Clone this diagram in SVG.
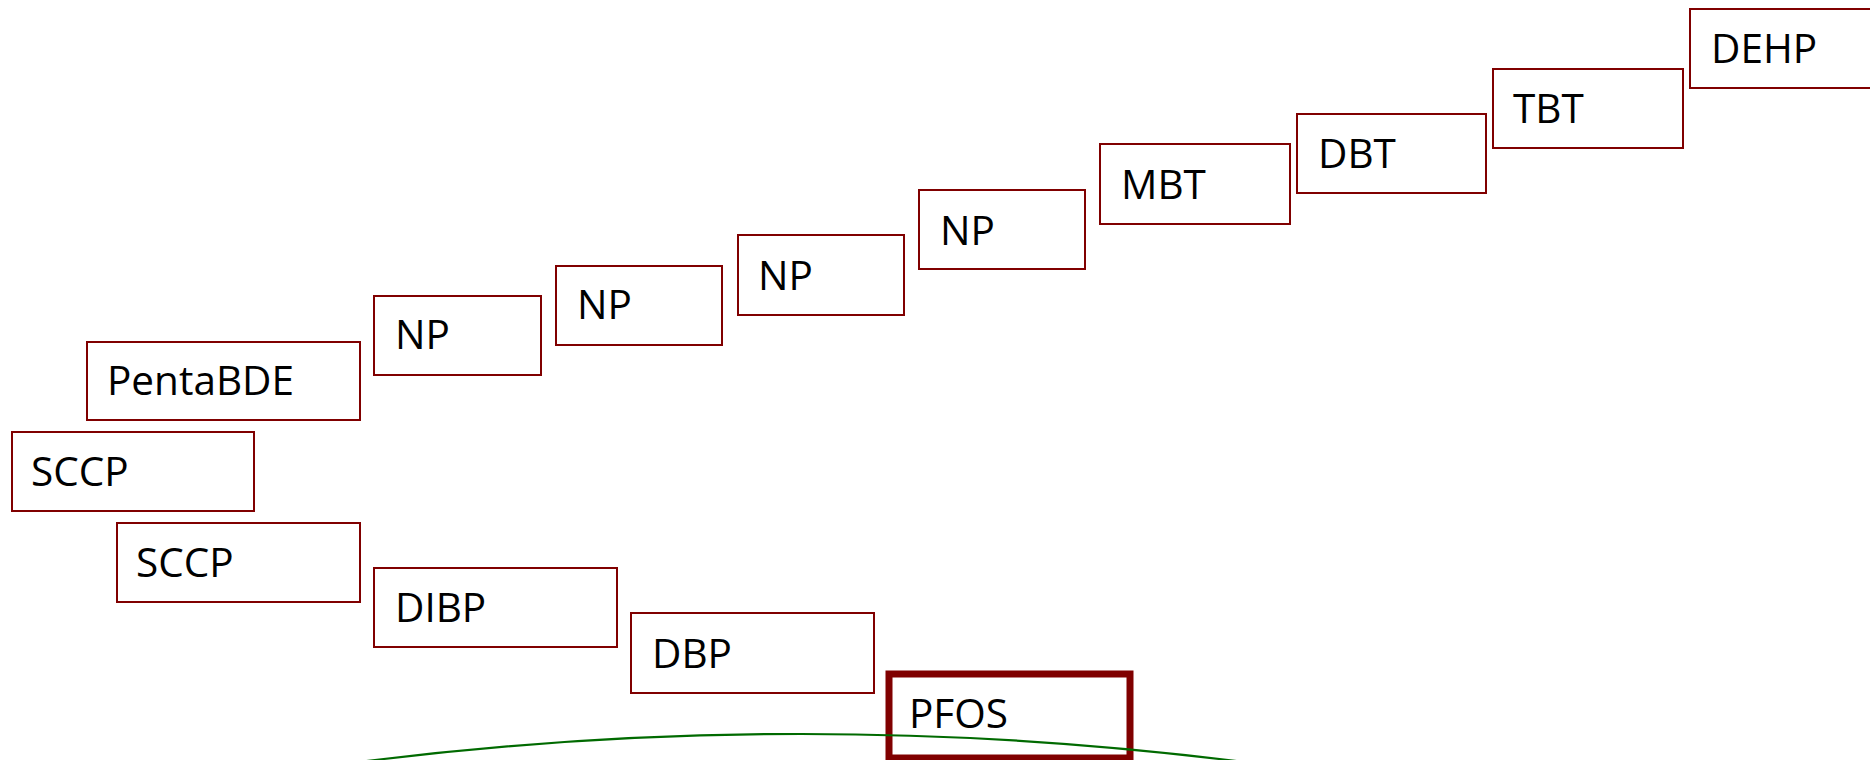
<svg xmlns="http://www.w3.org/2000/svg" width="1870" height="760" viewBox="0 0 1870 760">
<style>
.box{fill:#ffffff;stroke:#800000;stroke-width:2}
.thick{fill:#ffffff;stroke:#800000;stroke-width:7}
.lbl{font-family:"Open Sans","Noto Sans",sans-serif;font-size:40.5px;fill:#000000}
.curve{fill:none;stroke:#006a00;stroke-width:2.2}
</style>
<rect width="1870" height="760" fill="#ffffff"/>
<g id="n-sccp1"><rect class="box" x="12" y="432" width="242" height="79"/><text class="lbl" x="31" y="486">SCCP</text></g>
<g id="n-pentabde"><rect class="box" x="87" y="342" width="273" height="78"/><text class="lbl" x="107" y="395">PentaBDE</text></g>
<g id="n-sccp2"><rect class="box" x="117" y="523" width="243" height="79"/><text class="lbl" x="136" y="577">SCCP</text></g>
<g id="n-dibp"><rect class="box" x="374" y="568" width="243" height="79"/><text class="lbl" x="395" y="622">DIBP</text></g>
<g id="n-dbp"><rect class="box" x="631" y="613" width="243" height="80"/><text class="lbl" x="652" y="668">DBP</text></g>
<g id="n-np1"><rect class="box" x="374" y="296" width="167" height="79"/><text class="lbl" x="395" y="349">NP</text></g>
<g id="n-np2"><rect class="box" x="556" y="266" width="166" height="79"/><text class="lbl" x="577" y="319">NP</text></g>
<g id="n-np3"><rect class="box" x="738" y="235" width="166" height="80"/><text class="lbl" x="758" y="290">NP</text></g>
<g id="n-np4"><rect class="box" x="919" y="190" width="166" height="79"/><text class="lbl" x="940" y="245">NP</text></g>
<g id="n-mbt"><rect class="box" x="1100" y="144" width="190" height="80"/><text class="lbl" x="1121" y="199">MBT</text></g>
<g id="n-dbt"><rect class="box" x="1297" y="114" width="189" height="79"/><text class="lbl" x="1318" y="168">DBT</text></g>
<g id="n-tbt"><rect class="box" x="1493" y="69" width="190" height="79"/><text class="lbl" x="1513" y="123">TBT</text></g>
<g id="n-dehp"><rect class="box" x="1690" y="9" width="200" height="79"/><text class="lbl" x="1711" y="63">DEHP</text></g>
<g id="n-pfos"><rect class="thick" x="889" y="674" width="241" height="84"/><text class="lbl" x="909" y="728">PFOS</text></g>
<g id="connectors"><path class="curve" d="M314,768 Q801.5,700 1289,768"/></g>
</svg>
